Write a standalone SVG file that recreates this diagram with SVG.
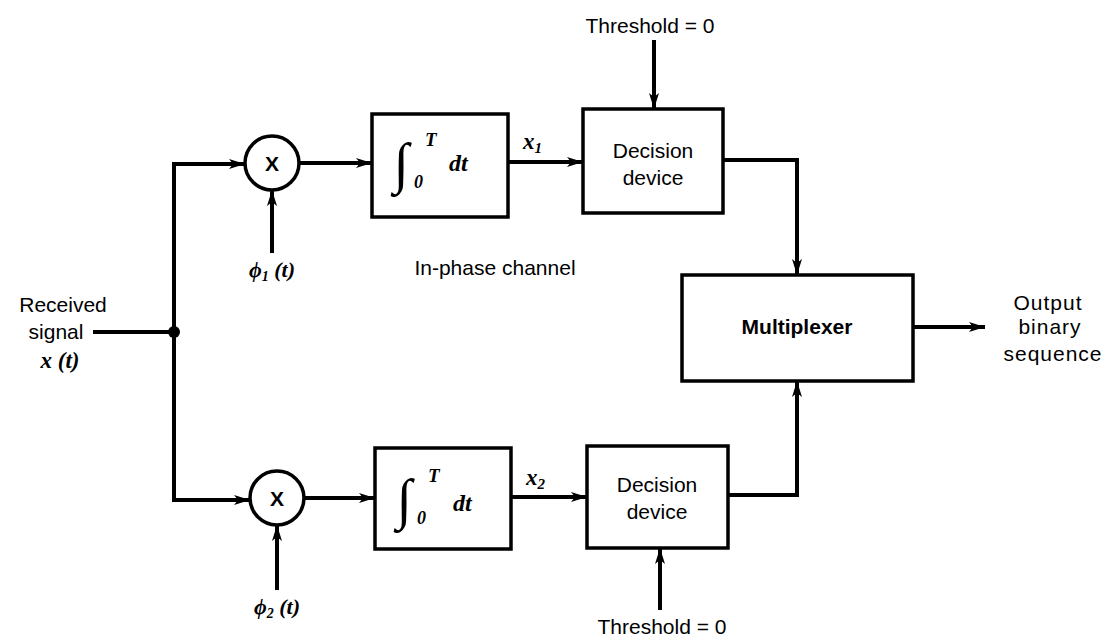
<svg xmlns="http://www.w3.org/2000/svg" width="1108" height="637" viewBox="0 0 1108 637">
<style>
.box{fill:#fff;stroke:#000;stroke-width:3.5}
.ln{fill:none;stroke:#000;stroke-width:4;stroke-linejoin:miter}
.t{font-family:"Liberation Sans",Arial,sans-serif;font-size:21px;fill:#000;text-anchor:middle}
.b{font-weight:bold}
.m{font-family:"Liberation Serif","Times New Roman",serif;font-style:italic;font-weight:bold;fill:#000}
</style>
<defs>
<marker id="ah" viewBox="0 0 16 10" refX="16" refY="5" markerWidth="16" markerHeight="10" markerUnits="userSpaceOnUse" orient="auto">
<path d="M0,0 L16,5 L0,10 L4,5 Z" fill="#000"/>
</marker>
</defs>
<rect width="1108" height="637" fill="#fff"/>
<g id="connectors">
<path class="ln" d="M93,332 H174"/>
<path class="ln" d="M174,332 V164 H245" marker-end="url(#ah)"/>
<path class="ln" d="M174,332 V500 H250" marker-end="url(#ah)"/>
<path class="ln" d="M300,163 H372" marker-end="url(#ah)"/>
<path class="ln" d="M304,498 H375" marker-end="url(#ah)"/>
<path class="ln" d="M272,253 V190" marker-end="url(#ah)"/>
<path class="ln" d="M277,590 V525" marker-end="url(#ah)"/>
<path class="ln" d="M508,162 H583" marker-end="url(#ah)"/>
<path class="ln" d="M511,497 H587" marker-end="url(#ah)"/>
<path class="ln" d="M654,40 V109" marker-end="url(#ah)"/>
<path class="ln" d="M660,610 V548" marker-end="url(#ah)"/>
<path class="ln" d="M723,160 H797 V275" marker-end="url(#ah)"/>
<path class="ln" d="M728,495 H797 V381" marker-end="url(#ah)"/>
<path class="ln" d="M913,327 H985" marker-end="url(#ah)"/>
<circle cx="174" cy="332" r="6" fill="#000"/>
</g>
<g id="input">
<text class="t" x="63" y="312" font-size="22">Received</text>
<text class="t" x="56" y="339" font-size="22">signal</text>
<text class="m" x="60" y="368" font-size="23" text-anchor="middle">x (t)</text>
</g>
<g id="mult1">
<circle cx="272" cy="163" r="27" fill="#fff" stroke="#000" stroke-width="3.5"/>
<text class="t b" x="272" y="171" font-size="22">X</text>
<text class="m" x="272" y="277" font-size="22" text-anchor="middle">ϕ<tspan font-size="14" dy="4">1</tspan><tspan dy="-4"> (t)</tspan></text>
</g>
<g id="mult2">
<circle cx="277" cy="498" r="27" fill="#fff" stroke="#000" stroke-width="3.5"/>
<text class="t b" x="277" y="506" font-size="22">X</text>
<text class="m" x="277" y="614" font-size="22" text-anchor="middle">ϕ<tspan font-size="14" dy="4">2</tspan><tspan dy="-4"> (t)</tspan></text>
</g>
<g id="integrator1">
<rect class="box" x="372" y="114" width="136" height="103"/>
<text class="m" x="393" y="182" font-size="56" font-style="normal" font-weight="normal">∫</text>
<text class="m" x="414" y="188" font-size="18" font-style="normal">0</text>
<text class="m" x="425" y="146" font-size="19">T</text>
<text class="m" x="449" y="171" font-size="24">dt</text>
<text class="m" x="523" y="149" font-size="23">x<tspan font-size="15" dy="4">1</tspan></text>
</g>
<g id="integrator2">
<rect class="box" x="375" y="448" width="136" height="101"/>
<text class="m" x="396" y="518" font-size="56" font-style="normal" font-weight="normal">∫</text>
<text class="m" x="417" y="524" font-size="18" font-style="normal">0</text>
<text class="m" x="428" y="482" font-size="19">T</text>
<text class="m" x="453" y="511" font-size="24">dt</text>
<text class="m" x="526" y="485" font-size="23">x<tspan font-size="15" dy="4">2</tspan></text>
</g>
<g id="decision1">
<rect class="box" x="583" y="109" width="140" height="104"/>
<text class="t" x="653" y="158" font-size="22">Decision</text>
<text class="t" x="653" y="185" font-size="22">device</text>
<text class="t" x="650" y="33" font-size="22">Threshold = 0</text>
</g>
<g id="decision2">
<rect class="box" x="587" y="446" width="141" height="102"/>
<text class="t" x="657" y="492" font-size="22">Decision</text>
<text class="t" x="657" y="519" font-size="22">device</text>
<text class="t" x="662" y="634" font-size="22">Threshold = 0</text>
</g>
<g id="multiplexer">
<rect class="box" x="682" y="275" width="231" height="106"/>
<text class="t b" x="797" y="334">Multiplexer</text>
</g>
<g id="output">
<text class="t" x="1048" y="310" letter-spacing="1">Output</text>
<text class="t" x="1050" y="334" letter-spacing="1">binary</text>
<text class="t" x="1053" y="361" letter-spacing="1">sequence</text>
</g>
<g id="label-inphase">
<text class="t" x="495" y="275">In-phase channel</text>
</g>
</svg>
